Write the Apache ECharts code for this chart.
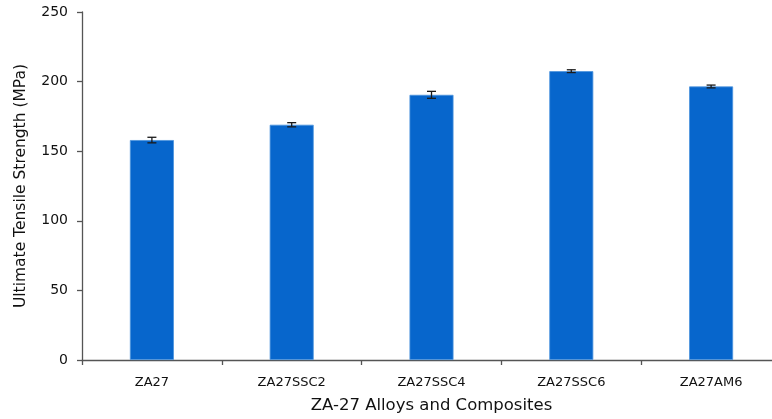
<!DOCTYPE html>
<html>
<head>
<meta charset="utf-8">
<script src="https://cdn.jsdelivr.net/npm/echarts@6/dist/echarts.min.js"></script>
<style>html,body{margin:0;padding:0;background:#fff;}#c{width:772px;height:419px;}</style>
</head>
<body>
<div id="c"></div>
<script>
var categories = ['ZA27', 'ZA27SSC2', 'ZA27SSC4', 'ZA27SSC6', 'ZA27AM6'];
var uts = [158, 169, 190.5, 207.5, 196.5];
var errors = [2, 1.5, 2.5, 1, 1];
var yTicks = [0, 50, 100, 150, 200, 250];

var chart = echarts.init(document.getElementById('c'));
var font = 'DejaVu Sans';
var errData = uts.map(function (v, i) { return [i, v - errors[i], v + errors[i]]; });

chart.setOption({
  animation: false,
  grid: { left: 82, top: 12, width: 699, height: 348, containLabel: false, outerBoundsMode: 'none' },
  xAxis: {
    type: 'category',
    data: categories,
    name: 'ZA-27 Alloys and Composites',
    nameLocation: 'middle',
    nameGap: 37,
    nameTextStyle: { fontFamily: font, fontSize: 16.5, color: '#111' },
    axisLine: { lineStyle: { color: '#555', width: 1.3 } },
    axisTick: { show: true, length: 5, inside: false, lineStyle: { color: '#555', width: 1.3 } },
    axisLabel: { fontFamily: font, fontSize: 13, color: '#111', margin: 16 },
    splitLine: { show: false }
  },
  yAxis: {
    type: 'value',
    min: yTicks[0],
    max: yTicks[yTicks.length - 1],
    interval: yTicks[1] - yTicks[0],
    name: 'Ultimate Tensile Strength (MPa)',
    nameLocation: 'middle',
    nameGap: 53,
    nameTextStyle: { fontFamily: font, fontSize: 15.5, color: '#111' },
    axisLine: { show: true, lineStyle: { color: '#555', width: 1.3 } },
    axisTick: { show: true, length: 5, lineStyle: { color: '#555', width: 1.3 } },
    axisLabel: { fontFamily: font, fontSize: 14, color: '#111', margin: 14 },
    splitLine: { show: false }
  },
  series: [
    {
      type: 'bar',
      data: uts,
      barWidth: 44,
      itemStyle: { color: '#0766cc', borderColor: '#4d94dd', borderWidth: 0.8 }
    },
    {
      type: 'custom',
      data: errData,
      z: 5,
      renderItem: function (params, api) {
        var lo = api.coord([api.value(0), api.value(1)]);
        var hi = api.coord([api.value(0), api.value(2)]);
        var h = 4.5;
        var st = { stroke: '#1a1a1a', lineWidth: 1.3 };
        return {
          type: 'group',
          children: [
            { type: 'line', shape: { x1: lo[0], y1: lo[1], x2: hi[0], y2: hi[1] }, style: st },
            { type: 'line', shape: { x1: lo[0] - h, y1: lo[1], x2: lo[0] + h, y2: lo[1] }, style: st },
            { type: 'line', shape: { x1: hi[0] - h, y1: hi[1], x2: hi[0] + h, y2: hi[1] }, style: st }
          ]
        };
      }
    }
  ]
});
</script>
</body>
</html>
